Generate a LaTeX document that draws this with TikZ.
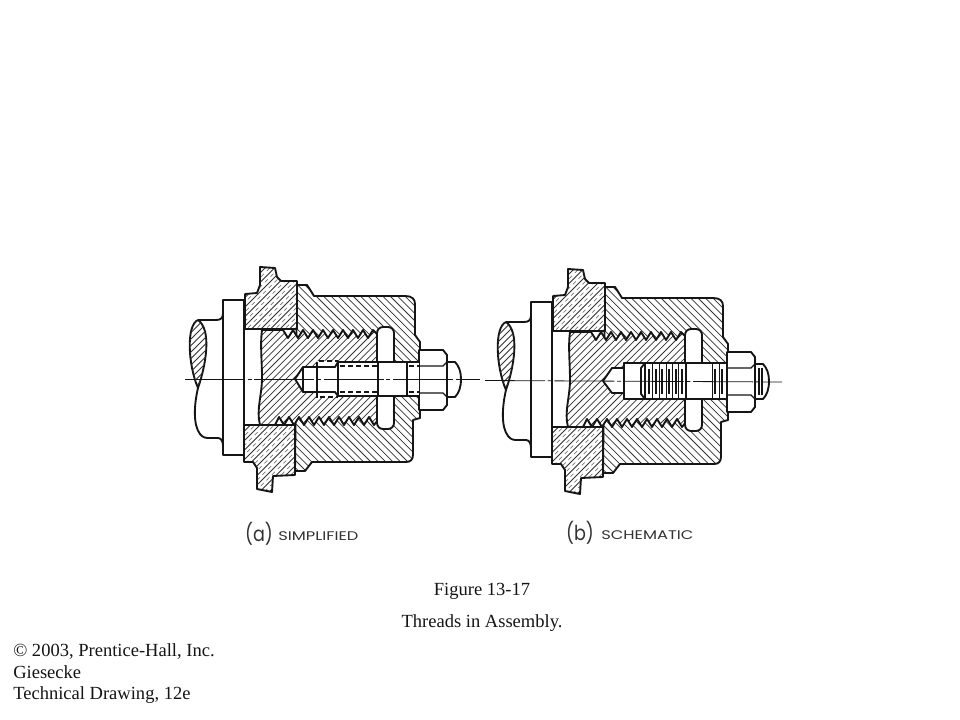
\documentclass[tikz,border=0pt]{standalone}
\usepackage{fontspec}
\setmainfont{Liberation Serif}
\newfontfamily\labfont[FakeStretch=1.3]{Poppins}
\newfontfamily\parfont[FakeStretch=0.85]{Poppins}
\tikzset{
  x=0.75pt,y=-0.75pt,
  outline/.style={line width=1.4pt,line join=round,draw=ink},
  thinline/.style={line width=0.9pt,draw=ink},
  hatchline/.style={line width=0.55pt,draw=hatchink},
  hiddenline/.style={line width=0.8pt,draw=ink,dash pattern=on 4pt off 2pt},
  centerline/.style={line width=0.6pt,draw=ink,dash pattern=on 45pt off 2pt on 3pt off 2pt},
  caption/.style={font=\fontsize{13.9}{16}\selectfont,text=ink,inner sep=0pt},
  credit/.style={font=\fontsize{13.9}{16}\selectfont,text=ink,inner sep=0pt,anchor=base west},
  lab/.style={font=\labfont\fontsize{9.4}{11}\selectfont,text=labink,inner sep=0pt},
  parenlab/.style={font=\parfont\fontsize{15.5}{20}\selectfont,text=labink,inner sep=0pt},
}
\definecolor{ink}{HTML}{151515}
\definecolor{hatchink}{HTML}{333333}
\definecolor{labink}{HTML}{333333}
\newcommand\hatchNE[2]{\begin{scope}\clip #1;\foreach \k in {0,...,120}{\draw[hatchline] ({-250+\k*#2},650) -- ({200+\k*#2},200);}\end{scope}}
\newcommand\hatchNW[2]{\begin{scope}\clip #1;\foreach \k in {0,...,120}{\draw[hatchline] ({-150+\k*#2},200) -- ({300+\k*#2},650);}\end{scope}}
\newcommand\hatchDash[2]{\begin{scope}\clip #1;\foreach \k in {0,...,120}{\draw[line width=0.5pt,draw=hatchink!80,dash pattern=on 3pt off 3pt] ({-250+#2/2+\k*#2},650) -- ({200+#2/2+\k*#2},200);}\end{scope}}
\def\capP{(297,285) -- (307,285) -- (309,288) -- (314,296) -- (405,296) .. controls (412,296) and (415,299) .. (415,304) -- (415,335) -- (420,342) -- (420,418) -- (413,420) -- (413,455) .. controls (413,460) and (410,462) .. (406,462) -- (312,462) -- (305,471) -- (295,471) -- cycle}
\def\plugP{(262,330) -- (283,330) -- (288,338) -- (293,330) -- (298,338) -- (303,330) -- (308,338) -- (313,330) -- (318,338) -- (323,330) -- (328,338) -- (333,330) -- (338,338) -- (343,330) -- (348,338) -- (353,330) -- (358,338) -- (363,330) -- (368,338) -- (373,330) -- (378,335) -- (378,420) -- (374,425) -- (369,417) -- (364,425) -- (359,417) -- (354,425) -- (349,417) -- (344,425) -- (339,417) -- (334,425) -- (329,417) -- (324,425) -- (319,417) -- (314,425) -- (309,417) -- (304,425) -- (299,417) -- (294,425) -- (289,417) -- (284,425) -- (279,417) -- (275,425) -- (260,425) .. controls (256,410) and (262,395) .. (262,378) .. controls (262,360) and (260,345) .. (262,330)}
\def\flangeU{(260,267) -- (275,268) -- (277,277) -- (281,281) -- (297,281) -- (297,329) -- (245,329) -- (245,294) -- (257,293) -- (260,285) -- cycle}
\def\flangeL{(244,425) -- (295,425) -- (295,475) -- (273,476) -- (272,492) -- (257,489) -- (257,468) -- (253,462) -- (244,462) -- cycle}
\def\lensP{(198,320) .. controls (186,325) and (188,365) .. (198,388) .. controls (206,365) and (212,330) .. (198,320)}
\newcommand\assembly{%
  \draw[outline] (198,320) -- (216,320) .. controls (221,320) and (223,318) .. (223,313);
  \draw[outline] (198,388) .. controls (194,405) and (193,425) .. (200,434) .. controls (203,438) and (206,438) .. (210,438) -- (218,438) .. controls (221,438) and (223,441) .. (223,446);
  \draw[outline] \lensP;
  \hatchNE{\lensP}{6.5}
  \draw[outline] (223,300) rectangle (244,455);
  \draw[outline] (244,329) rectangle (262,425);
  \path[fill=white] \capP;
  \hatchNW{\capP}{7.4}
  \draw[outline] \capP;
  \path[fill=white] \plugP -- cycle;
  \hatchNE{\plugP -- cycle}{6.8}
  \draw[outline] \plugP;
  \path[fill=white] \flangeU;
  \hatchNE{\flangeU}{9.5}
  \hatchDash{\flangeU}{9.5}
  \draw[outline] \flangeU;
  \path[fill=white] \flangeL;
  \hatchNE{\flangeL}{9.5}
  \hatchDash{\flangeL}{9.5}
  \draw[outline] \flangeL;
  \draw[outline,fill=white,rounded corners=4.5pt] (377,327) rectangle (394,429);
  \draw[outline,fill=white] (419,350) -- (443,350) -- (447,355) -- (447,362) -- (447,397) -- (447,405) -- (443,410) -- (419,410) -- cycle;
  \draw[thinline] (419,366) -- (443,366) -- (447,362);
  \draw[thinline] (419,393) -- (443,393) -- (447,397);
  \draw[outline,fill=white] (447,362) -- (455,362) .. controls (459,366) and (461,372) .. (461,379) .. controls (461,387) and (459,393) .. (455,397) -- (447,397) -- cycle;
}
\begin{document}
\begin{tikzpicture}
\path[use as bounding box,fill=white] (0,0) rectangle (960,720);
% ---------- (a) ----------
\assembly
\path[fill=white] (317,361) rectangle (338,397);
\draw[hiddenline] (317,367) -- (317,361) -- (338,361);
\draw[hiddenline] (317,392) -- (317,397) -- (338,397);
\draw[outline,fill=white] (295,379) -- (303,367) -- (335,367) -- (338,362) -- (338,396) -- (335,392) -- (303,392) -- cycle;
\draw[thinline] (303,367) -- (303,392);
\draw[thinline] (317,367) -- (317,392);
\draw[outline,fill=white] (338,362) rectangle (378,396);
\draw[hiddenline] (340,366) -- (378,366);
\draw[hiddenline] (340,392) -- (378,392);
\draw[outline,fill=white] (378,362) rectangle (407,396);
\path[fill=white] (408,362) rectangle (419,396);
\draw[outline] (407,362) -- (419,362);
\draw[outline] (407,396) -- (419,396);
\draw[hiddenline] (409,366) -- (419,366);
\draw[hiddenline] (409,392) -- (419,392);
\draw[centerline] (185,379) -- (480,379);
% ---------- (b) ----------
\begin{scope}[shift={(308,2)}]
\assembly
\draw[outline,fill=white] (295,379) -- (304,366) -- (316,366) -- (316,391) -- (304,391) -- cycle;
\draw[outline,fill=white] (316,361) rectangle (419,397);
\draw[outline] (337,361) -- (333,366) -- (333,392) -- (337,397);
\draw[thinline] (337,361) -- (337,397);
\foreach \v in {341,348,354,361,368,374,407,414}{\draw[line width=1.1pt,draw=ink] (\v,367) -- (\v,392);}
\foreach \v in {344,351,358,364,370,404,411}{\draw[line width=0.5pt,draw=ink] (\v,361) -- (\v,397);}
\draw[thinline] (378,361) -- (378,397);
\foreach \v in {451,454}{\draw[line width=1pt,draw=ink] (\v,366) -- (\v,393);}
\end{scope}
\draw[centerline] (485,380.5) -- (782,382);
% ---------- labels ----------
\node[parenlab,anchor=center] (la) at (259,534) {(a)};
\node[lab,anchor=west] (lsa) at (278,536) {SIMPLIFIED};
\node[parenlab,anchor=center] (lb) at (580,533) {(b)};
\node[lab,anchor=west] (lsb) at (601,535) {SCHEMATIC};
\node[caption] (fig) at (482,591) {Figure 13-17};
\node[caption] (title) at (482,623) {Threads in Assembly.};
\node[credit] (c1) at (13,656) {© 2003, Prentice-Hall, Inc.};
\node[credit] (c2) at (13,678) {Giesecke};
\node[credit] (c3) at (13,699) {Technical Drawing, 12e};
\end{tikzpicture}
\end{document}
